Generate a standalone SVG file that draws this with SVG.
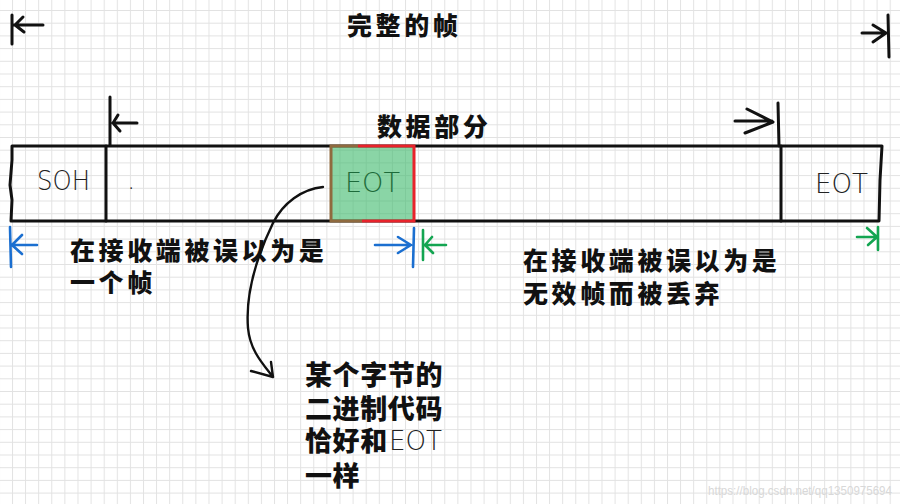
<svg xmlns="http://www.w3.org/2000/svg" width="919" height="504" viewBox="0 0 919 504">
<style>
.ink{fill:none;stroke:#111;stroke-width:3;stroke-linecap:round;stroke-linejoin:round}
.thin{fill:none;stroke:#111;stroke-width:2.4;stroke-linecap:round;stroke-linejoin:round}
.blue{fill:none;stroke:#1b6fd0;stroke-width:2.6;stroke-linecap:round;stroke-linejoin:round}
.green{fill:none;stroke:#13a551;stroke-width:2.6;stroke-linecap:round;stroke-linejoin:round}
.lbl{font-family:"Noto Sans CJK SC","Noto Sans",sans-serif;font-weight:900;font-size:25px;letter-spacing:3.6px;fill:#111}
.big{font-size:27px;letter-spacing:0.6px}
.hand{font-family:"DejaVu Sans","Liberation Sans",sans-serif;font-weight:200;font-size:26px;fill:#222}
.handg{font-family:"DejaVu Sans","Liberation Sans",sans-serif;font-weight:200;font-size:26px;fill:#1d6a3a}
.wm{font-family:"Liberation Sans",sans-serif;font-size:13px;fill:#d8d8d8}
</style>
<defs>
<pattern id="grid" x="12" y="10" width="13.1" height="12.7" patternUnits="userSpaceOnUse">
<path d="M0 0.5H13.1M0.5 0V12.7" fill="none" stroke="#e2e2e2" stroke-width="1"/>
</pattern>
</defs>
<rect width="919" height="504" fill="#fff"/>
<rect x="0" y="0" width="900" height="504" fill="url(#grid)"/>

<g id="connectors">
<path class="ink" d="M12 15 L12 44 M14 25 L43 25 M15 25 L23 17 M15 25 L24 32"/>
<path class="ink" d="M888 15 L889 57 M862 33 L886 33 M873 25 L886 33 L873 42"/>
<path class="ink" d="M110 97 L110 145 M113 123 L137 123 M113 123 L118 115 M113 123 L120 131"/>
<path class="ink" d="M778 103 L779 146 M735 121 L772 121 M747 109 L773 122 L745 133"/>
<path class="blue" d="M10 227 L11 267 M12 245 L37 245 M12 245 L22 235 M12 245 L22 254"/>
<path class="blue" d="M375 245 L411 245 M398 237 L411 245 L398 253 M414 228 L413 267"/>
<path class="green" d="M423 230 L423 260 M425 245 L446 245 M425 245 L432 237 M425 245 L433 253"/>
<path class="green" d="M857 237 L877 237 M867 228 L877 237 L868 245 M878 227 L878 250"/>
<path class="thin" d="M323 187 C302 189 283 203 273 223 C259 252 245 290 248 328 C250 350 262 363 273 377 M251 371 L273 377 L271 362"/>
</g>

<g id="frame">
<path class="ink" d="M12 146 L882 146 L880 180 L879 221 L11 221 L12 200 L10 185 L12 160 Z"/>
<path class="ink" d="M106 146 L106 221"/>
<path class="ink" d="M781 146 L781 221"/>
</g>

<g id="soh">
<text class="hand" x="37" y="190" textLength="53" lengthAdjust="spacingAndGlyphs">SOH</text>
</g>

<g id="data">
<text class="hand" x="127" y="189" font-size="20">.</text>
</g>

<g id="eot-box">
<rect x="331" y="146" width="83" height="75" fill="#3cb96b" fill-opacity="0.6"/>
<path d="M358 146 L414 146 L414 221 L362 221" fill="none" stroke="#e8232b" stroke-width="3"/>
<path d="M362 221 L331 221 L331 146 L358 146" fill="none" stroke="#8f6a3f" stroke-width="3"/>
<text class="handg" x="345" y="192" textLength="55" lengthAdjust="spacingAndGlyphs">EOT</text>
</g>

<g id="eot-tail">
<text class="hand" x="815" y="193" textLength="53" lengthAdjust="spacingAndGlyphs">EOT</text>
</g>

<g id="title-frame">
<text class="lbl" x="347" y="35">完整的帧</text>
</g>
<g id="title-data">
<text class="lbl" x="377" y="136">数据部分</text>
</g>

<g id="label-left">
<text class="lbl" x="70" y="260">在接收端被误以为是</text>
<text class="lbl" x="70" y="292">一个帧</text>
</g>

<g id="label-right">
<text class="lbl" x="523" y="270">在接收端被误以为是</text>
<text class="lbl" x="523" y="303">无效帧而被丢弃</text>
</g>

<g id="label-bottom">
<text class="lbl big" x="305" y="385">某个字节的</text>
<text class="lbl big" x="305" y="419">二进制代码</text>
<text class="lbl big" x="305" y="451">恰好和</text>
<text class="hand" x="389" y="450" font-size="20" textLength="53" lengthAdjust="spacingAndGlyphs">EOT</text>
<text class="lbl big" x="305" y="486">一样</text>
</g>

<text class="wm" x="708" y="495" textLength="184" lengthAdjust="spacingAndGlyphs">https://blog.csdn.net/qq1350975694</text>
</svg>
